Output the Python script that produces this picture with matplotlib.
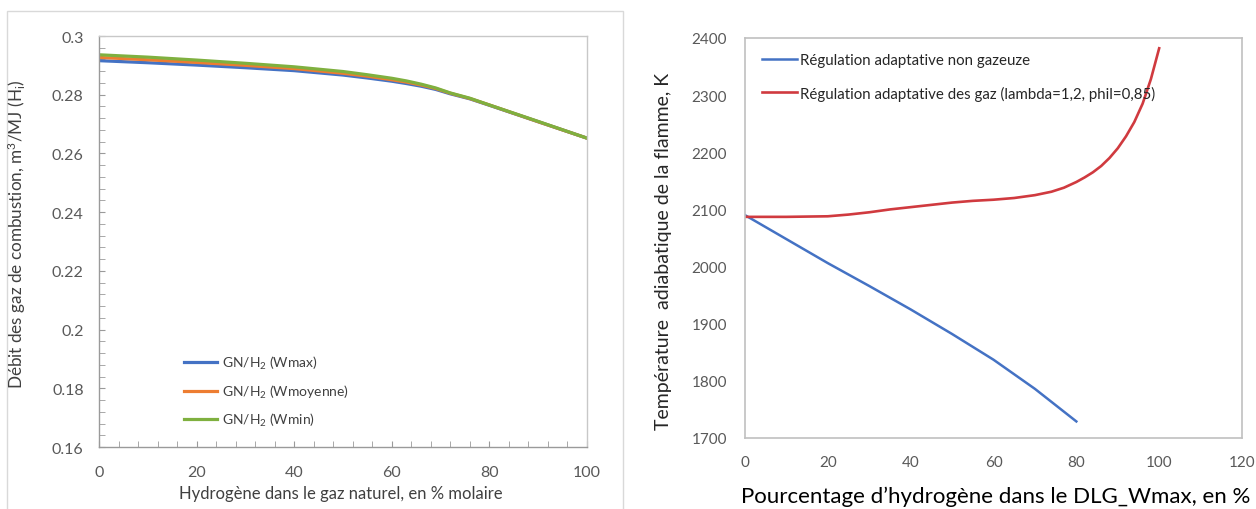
import matplotlib
matplotlib.use("Agg")
import matplotlib.pyplot as plt
from matplotlib.patches import Rectangle

plt.rcParams['font.family'] = ['Lato', 'DejaVu Sans']
plt.rcParams['mathtext.fontset'] = 'custom'
plt.rcParams['mathtext.rm'] = 'Lato'
plt.rcParams['mathtext.it'] = 'Lato:italic'
plt.rcParams['mathtext.bf'] = 'Lato:bold'

# --- Left panel: combustion gas flow vs hydrogen fraction ---
h2_pct = [0, 10, 20, 30, 40, 50, 55, 60, 63, 66, 69, 72, 76, 80, 90, 100]
flow_wmax = [0.2916, 0.2909, 0.2901, 0.2892, 0.2882, 0.2867, 0.2857, 0.2846, 0.2838, 0.2829, 0.2818, 0.2803, 0.2786, 0.2764, 0.2708, 0.2652]
flow_wmoy = [0.2927, 0.2919, 0.2910, 0.2900, 0.2889, 0.2873, 0.2863, 0.2851, 0.2843, 0.2833, 0.2821, 0.2805, 0.2787, 0.2765, 0.2708, 0.2652]
flow_wmin = [0.2936, 0.2928, 0.2918, 0.2907, 0.2895, 0.2879, 0.2868, 0.2856, 0.2847, 0.2836, 0.2823, 0.2806, 0.2788, 0.2765, 0.2709, 0.2652]
left_labels = ["GN/H$_2$ (Wmax)", "GN/H$_2$ (Wmoyenne)", "GN/H$_2$ (Wmin)"]

# --- Right panel: adiabatic flame temperature ---
dlg_pct_blue = [0, 10, 20, 30, 40, 50, 60, 70, 80]
temp_non_gas = [2090, 2048, 2006, 1966, 1925, 1882, 1837, 1786, 1729]
dlg_pct_red = [0, 10, 20, 25, 30, 35, 40, 45, 50, 55, 60, 65, 70, 74, 77, 80,
               82, 84, 86, 88, 90, 92, 94, 96, 98, 100]
temp_gas = [2087, 2087, 2088, 2091, 2095, 2100, 2104, 2108, 2112, 2115, 2117, 2120, 2125, 2131, 2138, 2148,
            2156, 2165, 2176, 2190, 2207, 2228, 2253, 2285, 2328, 2382]
right_labels = ["Régulation adaptative non gazeuze",
                "Régulation adaptative des gaz (lambda=1,2, phil=0,85)"]

W, H = 1256, 510
fig = plt.figure(figsize=(W / 100, H / 100), dpi=100)


def fx(px):
    return px / W


def fy(py):
    return 1 - py / H


tick_grey = '#595959'
label_grey = '#404040'

# light frame around the left chart
fig.patches.append(Rectangle((fx(7), -0.02), fx(623) - fx(7), fy(12) + 0.02,
                             transform=fig.transFigure, fill=False,
                             edgecolor='#d9d9d9', linewidth=1.0))

# Left axes
ax1 = fig.add_axes([fx(99), fy(448), fx(587) - fx(99), fy(37) - fy(448)])
ax1.plot(h2_pct, flow_wmax, color='#4472C4', lw=2.3, label=left_labels[0])
ax1.plot(h2_pct, flow_wmoy, color='#ED7D31', lw=2.3, label=left_labels[1])
ax1.plot(h2_pct, flow_wmin, color='#7FB03F', lw=2.3, label=left_labels[2])
ax1.set_xlim(0, 100)
ax1.set_ylim(0.16, 0.30)
ax1.set_xticks(range(0, 101, 20))
ax1.set_yticks([0.16, 0.18, 0.2, 0.22, 0.24, 0.26, 0.28, 0.3])
ax1.set_yticklabels(['0.16', '0.18', '0.2', '0.22', '0.24', '0.26', '0.28', '0.3'])
ax1.set_xticks(range(0, 101, 4), minor=True)
ax1.set_yticks([0.16 + 0.004 * i for i in range(36)], minor=True)
for s in ['top', 'right']:
    ax1.spines[s].set_color('#c8c8c8')
for s in ['left', 'bottom']:
    ax1.spines[s].set_color('#9a9a9a')
for s in ax1.spines.values():
    s.set_linewidth(1.0)
ax1.tick_params(which='both', direction='in', color='#9a9a9a', top=False, right=False)
ax1.tick_params(which='major', length=4, labelsize=11.5, labelcolor=tick_grey)
ax1.tick_params(which='minor', length=4)
ax1.tick_params(axis='y', which='major', pad=11)
ax1.tick_params(axis='x', which='major', pad=13)
leg1 = fig.legend(loc='center left', bbox_to_anchor=(fx(184), fy(392)), frameon=False,
                  handles=ax1.get_lines(), labels=left_labels,
                  fontsize=10, handlelength=2.4, handletextpad=0.3, labelspacing=0.85,
                  borderpad=0, borderaxespad=0)
for t in leg1.get_texts():
    t.set_color(label_grey)

fig.text(fx(341), fy(499), "Hydrogène dans le gaz naturel, en % molaire",
         ha='center', va='baseline', fontsize=12, color=label_grey)
fig.text(fx(17), fy(234), "Débit des gaz de combustion, m$^{3}$/MJ (H$_{\\mathrm{i}}$)",
         ha='center', va='center', rotation=90, fontsize=12.3, color=label_grey)

# Right axes
ax2 = fig.add_axes([fx(745), fy(439), fx(1242) - fx(745), fy(39) - fy(439)])
l1, = ax2.plot(dlg_pct_blue, temp_non_gas, color='#4472C4', lw=1.8)
l2, = ax2.plot(dlg_pct_red, temp_gas, color='#D03A3F', lw=1.9)
ax2.set_xlim(0, 120)
ax2.set_ylim(1700, 2400)
ax2.set_xticks(range(0, 121, 20))
ax2.set_yticks(range(1700, 2401, 100))
for s in ax2.spines.values():
    s.set_color('#c0c0c0')
    s.set_linewidth(1.2)
ax2.tick_params(length=0, labelsize=11, labelcolor=tick_grey)
ax2.tick_params(axis='y', pad=13)
ax2.tick_params(axis='x', pad=12)
leg2 = fig.legend(handles=[l1, l2], labels=right_labels, loc='center left',
                  bbox_to_anchor=(fx(762), fy(78)), frameon=False,
                  fontsize=10.8, handlelength=2.3, handletextpad=0.25, labelspacing=1.2,
                  borderpad=0, borderaxespad=0)
for t in leg2.get_texts():
    t.set_color('#262626')

fig.text(fx(996), fy(503), "Pourcentage d\u2019hydrogène dans le DLG_Wmax, en %",
         ha='center', va='baseline', fontsize=16, color='#000000')
fig.text(fx(663), fy(251), "Température  adiabatique de la flamme, K",
         ha='center', va='center', rotation=90, fontsize=14, color='#262626')

fig.savefig("out.png", dpi=100)
